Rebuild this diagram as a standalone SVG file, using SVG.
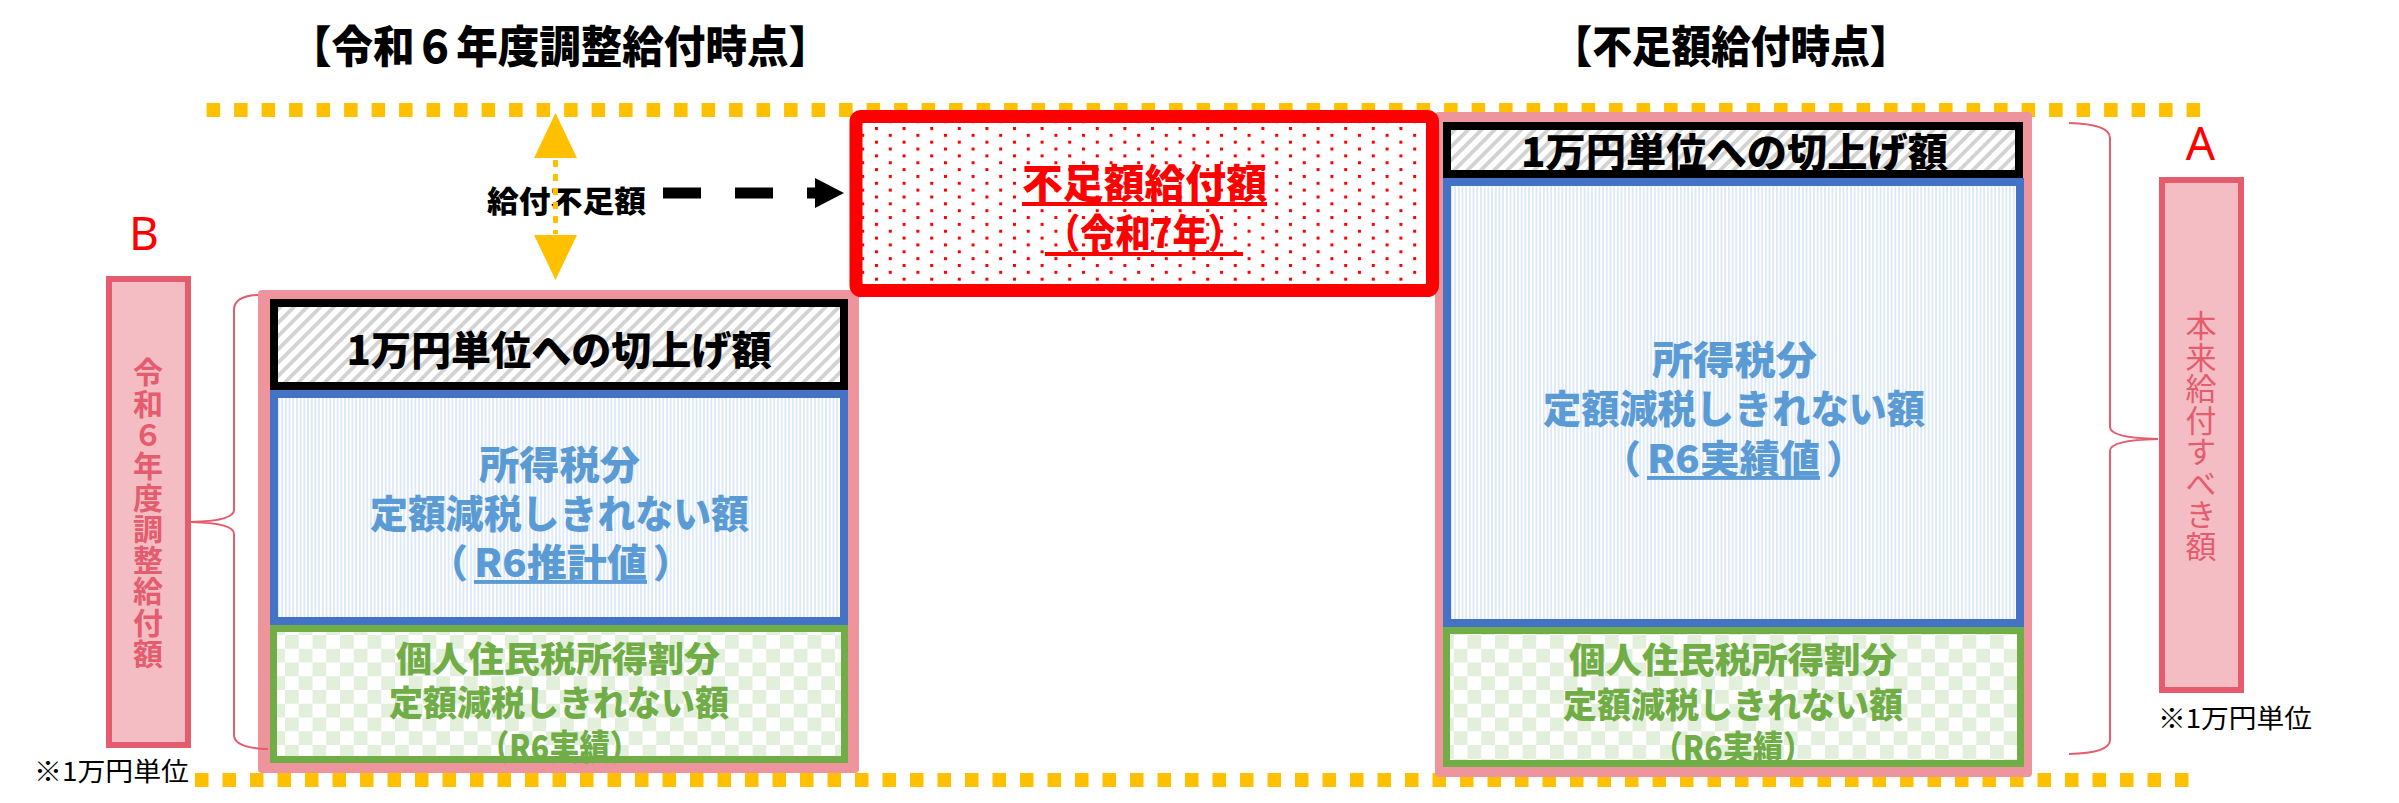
<svg xmlns="http://www.w3.org/2000/svg" width="2399" height="803" viewBox="0 0 2399 803">
<defs>
<pattern id="hatch" patternUnits="userSpaceOnUse" width="9.4" height="9.4" patternTransform="rotate(45)"><rect width="9.4" height="9.4" fill="#fff"/><rect width="3.8" height="9.4" fill="#D2D2D2"/></pattern>
<pattern id="stripes" patternUnits="userSpaceOnUse" width="3.7" height="10"><rect width="3.7" height="10" fill="#fff"/><rect width="1.9" height="10" fill="#DCE9F6"/></pattern>
<pattern id="check" patternUnits="userSpaceOnUse" x="285" y="635" width="27.5" height="27.5"><rect width="27.5" height="27.5" fill="#fff"/><rect width="13.75" height="13.75" fill="#E2EFDA"/><rect x="13.75" y="13.75" width="13.75" height="13.75" fill="#E2EFDA"/></pattern>
<pattern id="dots" patternUnits="userSpaceOnUse" x="875" y="127" width="27.6" height="13.7"><rect width="27.6" height="13.7" fill="#fff"/><rect width="3" height="3" fill="#FF0000"/><rect x="13.8" y="6.85" width="3" height="3" fill="#FF0000"/></pattern>
</defs>
<style>
.jp{font-family:'Noto Sans CJK JP','Noto Sans',sans-serif;}
.b{font-weight:700}
.h{font-weight:900}
.c{text-anchor:middle;dominant-baseline:central}
.s{text-anchor:start;dominant-baseline:central}
.e{text-anchor:end;dominant-baseline:central}
.v{writing-mode:vertical-rl;text-anchor:start}
.guide{fill:none;stroke:#FFC000;stroke-width:14;stroke-dasharray:13.5 14}
.outer{fill:#EE949D;stroke:none}
.bar{fill:url(#hatch);stroke:#000;stroke-width:8}
.blue{fill:url(#stripes);stroke:#4472C4;stroke-width:8}
.green{fill:url(#check);stroke:#70AD47;stroke-width:7}
.label{fill:#F4BCC3;stroke:#E45C6E;stroke-width:6}
.brace{fill:none;stroke:#E45C6E;stroke-width:2}
.bt{fill:#000;font-size:40px}
.blt{fill:#5B9BD5;font-size:39px}
.gt{fill:#70AD47;font-size:35px}
.rt{fill:#FF0000;font-size:40px;text-decoration:underline}
.ul{text-decoration:underline}
.note{fill:#000;font-size:26px}
.letter{fill:#FF0000;font-size:46px;font-family:'Noto Sans','Liberation Sans',sans-serif;text-anchor:middle}
</style>
<rect width="2399" height="803" fill="#fff"/>

<g id="titles">
<text class="jp h c" x="560" y="44" font-size="44" textLength="540" lengthAdjust="spacingAndGlyphs">【令和６年度調整給付時点】</text>
<text class="jp h c" x="1731" y="44" font-size="44" textLength="357" lengthAdjust="spacingAndGlyphs">【不足額給付時点】</text>
</g>

<g id="guides">
<line class="guide" x1="206.6" y1="110" x2="2200" y2="110"/>
<line class="guide" x1="195" y1="780" x2="2188.5" y2="780"/>
</g>

<g id="left-column">
<rect class="outer" x="258" y="290" width="601" height="483" rx="4"/>
<g id="left-roundup">
<rect class="bar" x="274" y="303" width="570" height="83"/>
<text class="jp h c bt" x="559" y="347.5" textLength="425" lengthAdjust="spacingAndGlyphs">1万円単位への切上げ額</text>
</g>
<g id="left-income-tax">
<rect class="blue" x="274" y="394" width="570" height="227"/>
<text class="jp h c blt" x="559.5" y="461.5" textLength="161" lengthAdjust="spacingAndGlyphs">所得税分</text>
<text class="jp h c blt" x="559.5" y="511" textLength="379" lengthAdjust="spacingAndGlyphs">定額減税しきれない額</text>
<text class="jp h e blt" x="468" y="560">（</text>
<text class="jp h c blt ul" x="560.5" y="560" textLength="173" lengthAdjust="spacingAndGlyphs">R6推計値</text>
<text class="jp h s blt" x="653" y="560">）</text>
</g>
<g id="left-resident-tax">
<rect class="green" x="273.5" y="628.5" width="571" height="131"/>
<text class="jp h c gt" x="558" y="656" textLength="324" lengthAdjust="spacingAndGlyphs">個人住民税所得割分</text>
<text class="jp h c gt" x="559" y="700" textLength="340" lengthAdjust="spacingAndGlyphs">定額減税しきれない額</text>
<text class="jp h c gt" x="559.5" y="744" textLength="161" lengthAdjust="spacingAndGlyphs">（R6実績）</text>
</g>
</g>

<g id="right-column">
<rect class="outer" x="1435" y="112" width="597" height="665" rx="4"/>
<g id="right-roundup">
<rect class="bar" x="1447" y="126" width="572" height="48"/>
<text class="jp h c bt" x="1734.5" y="150" textLength="427" lengthAdjust="spacingAndGlyphs">1万円単位への切上げ額</text>
</g>
<g id="right-income-tax">
<rect class="blue" x="1447" y="182" width="573" height="441"/>
<text class="jp h c blt" x="1734.5" y="357" textLength="165" lengthAdjust="spacingAndGlyphs">所得税分</text>
<text class="jp h c blt" x="1734" y="406" textLength="382" lengthAdjust="spacingAndGlyphs">定額減税しきれない額</text>
<text class="jp h e blt" x="1641" y="456">（</text>
<text class="jp h c blt ul" x="1733.5" y="456" textLength="173" lengthAdjust="spacingAndGlyphs">R6実績値</text>
<text class="jp h s blt" x="1826" y="456">）</text>
</g>
<g id="right-resident-tax">
<rect class="green" x="1446.5" y="630.5" width="574" height="133"/>
<text class="jp h c gt" x="1733" y="657.5" textLength="328" lengthAdjust="spacingAndGlyphs">個人住民税所得割分</text>
<text class="jp h c gt" x="1733" y="702" textLength="340" lengthAdjust="spacingAndGlyphs">定額減税しきれない額</text>
<text class="jp h c gt" x="1733" y="745" textLength="161" lengthAdjust="spacingAndGlyphs">（R6実績）</text>
</g>
</g>

<g id="shortfall-payment">
<rect x="856" y="116.5" width="576.5" height="174" rx="5" fill="url(#dots)" stroke="#FF0000" stroke-width="13"/>
<text class="jp h c rt" x="1144.5" y="181" textLength="245" lengthAdjust="spacingAndGlyphs">不足額給付額</text>
<text class="jp h c rt" x="1144" y="231" textLength="198" lengthAdjust="spacingAndGlyphs">（令和7年）</text>
</g>

<g id="label-B">
<text class="letter" x="144" y="250">B</text>
<rect class="label" x="109" y="279" width="79" height="466"/>
<text class="jp b v" x="148" y="357" fill="#E45C6E" font-size="30" letter-spacing="1.3">令和６年度調整給付額</text>
<text class="jp c note" x="111.5" y="769" textLength="155" lengthAdjust="spacingAndGlyphs">※1万円単位</text>
</g>

<g id="label-A">
<text class="letter" x="2200.5" y="160">A</text>
<rect class="label" x="2162" y="180" width="79" height="510"/>
<text class="jp v" x="2201" y="310" fill="#E45C6E" font-size="31" letter-spacing="0.5">本来給付すべき額</text>
<text class="jp c note" x="2235" y="716" textLength="154" lengthAdjust="spacingAndGlyphs">※1万円単位</text>
</g>

<g id="gap-label">
<text class="jp h c" x="566.5" y="198.5" font-size="30" textLength="159" lengthAdjust="spacingAndGlyphs">給付不足額</text>
</g>

<g id="connectors">
<g id="gap-arrow" fill="#FFC000">
<line x1="555.5" y1="160" x2="555.5" y2="234" stroke="#FFC000" stroke-width="5" stroke-dasharray="7 7"/>
<polygon points="555.5,113 577,158 534,158"/>
<polygon points="555.5,280 577,235 534,235"/>
</g>
<g id="shortfall-arrow">
<line x1="663" y1="193" x2="816" y2="193" stroke="#000" stroke-width="11" stroke-dasharray="38 34"/>
<polygon points="815,178 844,193 815,208" fill="#000"/>
</g>
<path class="brace" d="M258,295 Q234,296 234,310 L234,510 Q234,521 191,522 Q234,523 234,534 L234,735 Q234,748 268,749"/>
<path class="brace" d="M2069,123 Q2110,124 2110,138 L2110,427 Q2110,438 2158,439 Q2110,440 2110,451 L2110,740 Q2110,753 2069,754"/>
</g>
</svg>
